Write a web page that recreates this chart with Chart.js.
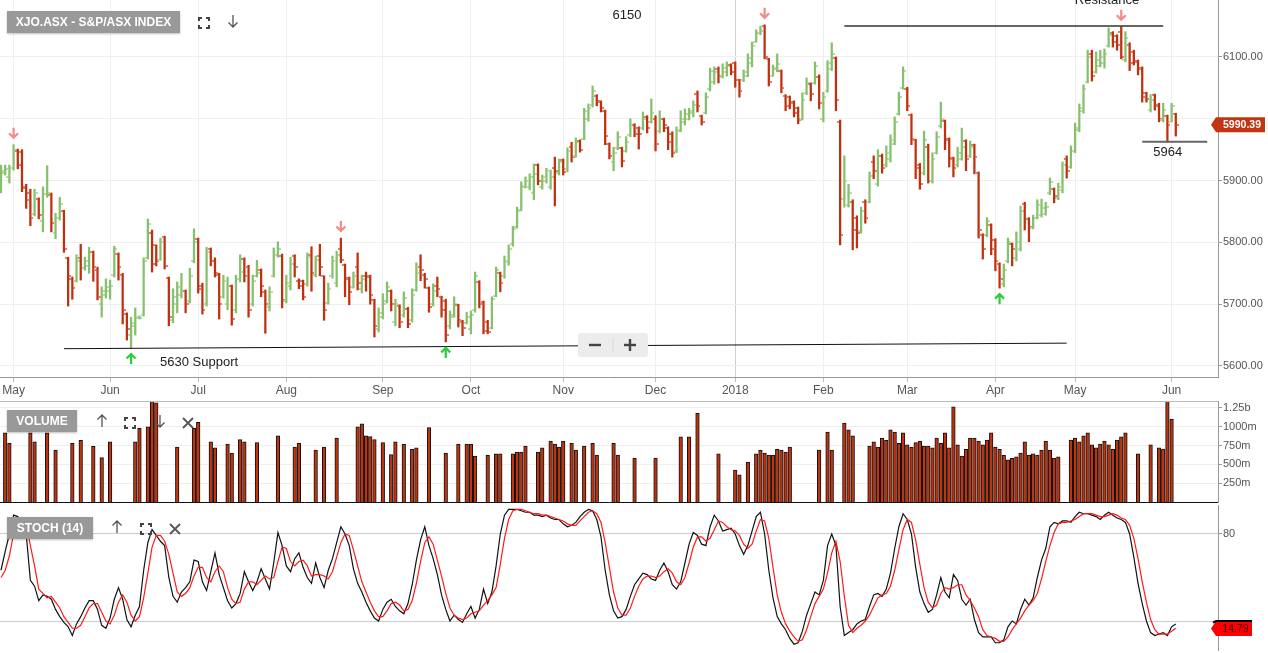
<!DOCTYPE html>
<html>
<head>
<meta charset="utf-8">
<script src="https://cdn.jsdelivr.net/npm/chart.js@4.4.1/dist/chart.umd.min.js"></script>
<style>
  body { margin: 0; background: #fff; font-family: "Liberation Sans", Arial, sans-serif; }
  #wrap { position: relative; width: 1268px; height: 653px; overflow: hidden; }
  .pane { position: absolute; left: 0; width: 1268px; }
  .tag { position: absolute; left: 7px; height: 22px; line-height: 22px; background: #999; color: #fff;
         font-size: 12px; font-weight: bold; text-align: center; box-shadow: 0 1px 2px rgba(0,0,0,0.25); }
  .icon { position: absolute; }
  .hline { position: absolute; left: 0; width: 1218px; height: 1px; background: #bbb; }
  #zoomer { position: absolute; left: 578px; top: 333px; width: 70px; height: 24px; background: #ececec;
            border-radius: 3px; }
</style>
</head>
<body>
<div id="wrap">
  <div class="pane" style="top:0;height:400px"><canvas id="priceChart" width="1268" height="400"></canvas></div>
  <div class="pane" style="top:400px;height:103px"><canvas id="volumeChart" width="1268" height="103"></canvas></div>
  <div class="pane" style="top:503px;height:150px"><canvas id="stochChart" width="1268" height="150"></canvas></div>
  <div class="hline" style="top:401px"></div>

  <div class="tag" style="top:11px;width:173px">XJO.ASX - S&amp;P/ASX INDEX</div>
  <div class="tag" style="top:410px;width:70px">VOLUME</div>
  <div class="tag" style="top:517px;width:86px">STOCH (14)</div>

  <div id="zoomer">
    <svg width="70" height="24"><line x1="11" y1="12" x2="23" y2="12" stroke="#444" stroke-width="2.4"/>
      <line x1="35" y1="5" x2="35" y2="19" stroke="#d8d8d8" stroke-width="1"/>
      <line x1="46" y1="12" x2="58" y2="12" stroke="#444" stroke-width="2.4"/>
      <line x1="52" y1="6" x2="52" y2="18" stroke="#444" stroke-width="2.4"/></svg>
  </div>
</div>

<script>
// ---- data ----
const firstDay = '2017-04-26';
const holidays = ['2017-06-12', '2017-12-25', '2017-12-26', '2018-01-01', '2018-01-26',
                  '2018-03-30', '2018-04-02', '2018-04-25'];
const monthNames = ['Jan', 'Feb', 'Mar', 'Apr', 'May', 'Jun', 'Jul', 'Aug', 'Sep', 'Oct', 'Nov', 'Dec'];

// open, high, low, close
const priceBars = [
  [5890,5925,5880,5915],[5912,5925,5909,5918],[5905,5925,5896,5920],[5920,5958,5917,5950],[5948,5951,5919,5925],
  [5946,5950,5882,5888],[5890,5894,5855,5868],[5880,5886,5827,5840],[5846,5886,5843,5880],[5870,5872,5838,5845],
  [5835,5890,5817,5878],[5878,5924,5873,5880],[5876,5880,5817,5832],[5815,5847,5806,5840],[5840,5873,5836,5862],
  [5850,5852,5784,5790],[5774,5776,5697,5745],[5740,5744,5708,5727],[5737,5780,5736,5770],[5775,5797,5739,5758],
  [5758,5776,5755,5770],[5762,5792,5750,5785],[5784,5786,5737,5760],[5755,5760,5707,5712],[5700,5728,5679,5722],
  [5715,5741,5710,5728],[5722,5739,5708,5730],[5748,5794,5744,5790],[5781,5783,5739,5760],[5748,5750,5668,5690],
  [5684,5686,5642,5660],[5650,5679,5629,5670],[5665,5694,5650,5680],[5678,5681,5676,5678],[5682,5775,5681,5770],
  [5775,5838,5773,5830],[5815,5820,5752,5765],[5795,5796,5762,5770],[5772,5807,5771,5800],[5808,5810,5757,5762],
  [5742,5744,5665,5680],[5675,5725,5670,5712],[5700,5736,5686,5728],[5715,5750,5710,5722],[5721,5723,5686,5700],
  [5705,5758,5702,5745],[5770,5822,5767,5800],[5805,5807,5718,5724],[5730,5734,5684,5690],[5700,5792,5697,5785],
  [5789,5791,5762,5770],[5770,5775,5744,5750],[5748,5750,5676,5700],[5712,5747,5710,5738],[5700,5744,5691,5730],
  [5729,5731,5666,5676],[5690,5747,5686,5740],[5740,5780,5736,5752],[5773,5775,5736,5745],[5760,5763,5679,5690],
  [5700,5747,5697,5738],[5746,5771,5744,5750],[5755,5757,5712,5730],[5720,5723,5653,5700],[5695,5728,5689,5720],
  [5746,5791,5744,5780],[5780,5801,5776,5790],[5778,5781,5694,5706],[5705,5747,5702,5735],[5730,5776,5723,5765],
  [5778,5780,5744,5760],[5738,5741,5725,5730],[5737,5739,5707,5712],[5732,5783,5729,5776],[5780,5793,5721,5750],
  [5748,5778,5744,5772],[5778,5797,5746,5760],[5745,5746,5674,5690],[5702,5734,5700,5725],[5745,5778,5742,5770],
  [5735,5786,5728,5780],[5790,5807,5767,5772],[5763,5765,5712,5740],[5742,5744,5699,5720],[5728,5752,5726,5745],
  [5760,5783,5723,5735],[5725,5747,5718,5740],[5745,5752,5721,5744],[5745,5747,5700,5715],[5706,5708,5647,5665],
  [5660,5694,5655,5685],[5680,5717,5676,5700],[5705,5736,5702,5728],[5721,5723,5689,5700],[5672,5708,5665,5700],
  [5697,5699,5662,5672],[5682,5720,5679,5710],[5693,5695,5662,5668],[5675,5725,5671,5715],[5723,5767,5721,5750],
  [5760,5780,5738,5755],[5748,5750,5726,5740],[5726,5728,5687,5695],[5700,5733,5697,5722],[5730,5744,5712,5725],
  [5711,5713,5679,5690],[5705,5708,5639,5650],[5665,5689,5660,5680],[5683,5712,5679,5700],[5698,5700,5663,5675],
  [5672,5674,5649,5662],[5670,5687,5668,5680],[5660,5689,5652,5682],[5690,5752,5687,5745],[5736,5738,5694,5700],
  [5703,5705,5652,5656],[5672,5674,5652,5655],[5662,5712,5660,5708],[5714,5760,5712,5755],[5750,5752,5720,5735],
  [5745,5778,5742,5770],[5768,5796,5763,5790],[5797,5826,5794,5822],[5825,5857,5823,5850],[5853,5898,5851,5892],
  [5890,5906,5888,5900],[5890,5911,5885,5905],[5880,5927,5869,5910],[5925,5927,5893,5900],[5890,5909,5886,5905],
  [5900,5920,5896,5915],[5890,5917,5886,5905],[5920,5938,5859,5915],[5912,5935,5909,5930],[5933,5935,5909,5914],
  [5918,5953,5914,5948],[5955,5962,5930,5938],[5940,5969,5938,5962],[5964,5966,5946,5950],[5968,6017,5966,6012],
  [6000,6024,5996,6018],[6022,6053,6019,6045],[6037,6039,6021,6028],[6027,6029,6011,6018],[6012,6014,5958,5972],
  [5960,5961,5935,5940],[5930,5954,5916,5945],[5952,5979,5950,5970],[5952,5954,5922,5932],[5948,5971,5946,5962],
  [5973,6000,5971,5990],[5990,5992,5971,5975],[5985,5987,5951,5975],[5985,6011,5982,6000],[6003,6005,5977,5985],
  [5995,6032,5993,6010],[6000,6005,5948,5960],[5980,6013,5977,6000],[5999,6001,5979,5990],[5985,5987,5950,5962],
  [5975,5979,5938,5945],[5948,5987,5945,5980],[5982,6013,5979,6000],[5995,6016,5990,6008],[6000,6017,5998,6012],
  [6010,6029,6003,6022],[6040,6045,6011,6020],[6004,6006,5990,5994],[6010,6042,6008,6035],[6048,6082,6045,6078],
  [6060,6084,6056,6075],[6080,6084,6058,6070],[6068,6089,6066,6082],[6075,6092,6069,6085],[6087,6089,6071,6076],
  [6090,6092,6051,6062],[6062,6064,6035,6045],[6062,6079,6060,6075],[6070,6105,6068,6098],[6090,6124,6084,6118],
  [6125,6144,6124,6138],[6138,6150,6136,6142],[6150,6152,6097,6100],[6096,6098,6053,6060],[6070,6087,6069,6082],
  [6080,6105,6076,6088],[6077,6079,6042,6050],[6037,6039,6013,6020],[6035,6037,6016,6025],[6027,6029,6003,6010],
  [6017,6019,5992,5998],[6000,6042,5998,6030],[6041,6066,6039,6058],[6056,6058,6029,6040],[6058,6092,6056,6085],
  [6068,6071,6016,6025],[6000,6043,5995,6035],[6045,6094,6043,6090],[6080,6123,6078,6105],[6098,6100,6013,6030],
  [5995,5998,5796,5812],[5870,5940,5857,5900],[5860,5894,5857,5880],[5866,5869,5788,5820],[5840,5843,5791,5815],
  [5818,5857,5815,5850],[5865,5869,5831,5840],[5866,5914,5864,5908],[5930,5940,5903,5915],[5895,5950,5891,5940],
  [5940,5943,5912,5920],[5925,5956,5922,5945],[5935,5974,5930,5965],[5960,6003,5958,5995],[6008,6043,6006,6035],
  [6050,6084,6048,6078],[6049,6051,6013,6020],[6006,6008,5958,5968],[5965,5967,5903,5920],[5926,5928,5886,5895],
  [5912,5980,5909,5965],[5955,5959,5896,5900],[5900,5945,5896,5935],[5945,5979,5943,5970],[5988,6027,5985,6000],
  [5996,5998,5950,5965],[5967,5969,5922,5935],[5936,5938,5906,5920],[5925,5954,5922,5945],[5935,5985,5933,5955],
  [5964,5966,5916,5935],[5940,5964,5937,5955],[5957,5959,5911,5938],[5912,5914,5807,5820],[5812,5814,5773,5790],
  [5812,5840,5809,5835],[5828,5830,5780,5790],[5804,5806,5754,5770],[5765,5767,5726,5740],[5732,5765,5728,5755],
  [5770,5807,5767,5800],[5797,5799,5762,5790],[5775,5817,5770,5800],[5790,5859,5786,5850],[5862,5865,5820,5838],
  [5838,5840,5801,5825],[5824,5844,5822,5840],[5840,5869,5838,5860],[5845,5870,5841,5855],[5846,5865,5844,5858],
  [5880,5904,5877,5898],[5886,5888,5864,5875],[5872,5896,5869,5890],[5885,5930,5880,5925],[5935,5940,5904,5915],
  [5922,5956,5920,5948],[5948,5993,5945,5985],[5982,6024,5979,6018],[6012,6055,6009,6048],[6060,6111,6058,6100],
  [6105,6111,6061,6070],[6076,6108,6074,6095],[6086,6111,6084,6100],[6090,6113,6082,6105],[6118,6147,6116,6135],
  [6138,6141,6116,6125],[6134,6136,6111,6120],[6140,6149,6097,6100],[6095,6141,6092,6130],[6120,6123,6078,6090],
  [6108,6111,6087,6092],[6093,6095,6071,6080],[6082,6084,6027,6035],[6041,6043,6027,6032],[6015,6039,6011,6030],
  [6038,6040,6014,6020],[6022,6025,5995,6000],[5998,6025,5995,6015],[6004,6006,5962,5990],[5995,6025,5995,6020],
  [6007,6009,5972,5990.39]
];

// volume in millions, null where the chart shows no bar
const volumes = [
  null,920,780,null,null,null,null,920,800,null,
  null,920,null,690,null,null,null,780,null,820,
  null,null,740,null,590,null,800,null,null,null,
  null,null,800,980,null,1000,1400,1320,null,null,
  null,null,730,null,null,null,980,1060,null,null,
  800,720,null,null,770,650,null,830,800,null,
  null,790,null,null,null,null,880,null,null,null,
  730,780,null,null,null,690,null,730,null,null,
  850,null,null,null,null,1000,1040,880,870,830,
  null,790,null,630,800,null,770,null,700,720,
  null,null,990,null,null,null,650,null,null,770,
  null,770,770,610,null,null,620,null,640,640,
  null,null,640,665,665,745,null,null,665,720,
  null,810,770,730,810,null,780,690,null,745,
  null,780,625,null,null,null,780,625,null,null,
  null,585,null,null,null,null,585,null,null,null,
  null,null,865,null,865,null,1180,null,null,null,
  null,640,null,null,null,425,360,null,530,null,
  640,690,650,625,625,700,690,665,730,null,
  null,null,null,null,null,690,null,930,690,null,
  null,1050,960,880,null,null,null,745,800,730,
  850,820,960,930,780,920,760,730,790,810,
  745,745,720,850,780,920,720,1265,760,610,
  700,850,850,810,760,825,920,730,700,620,
  560,580,600,650,800,625,640,625,690,810,
  690,585,600,null,null,825,850,800,880,920,
  760,720,770,810,760,700,825,865,920,null,
  null,640,null,null,760,null,720,705,1360,1100,null
];

const stochK = [
  55,68,80,93,92,88,80,48,44,34, 38,37,35,28,23,19,16,10,18,23,
  29,34,34,28,17,15,22,35,43,35, 21,16,24,30,55,74,83,79,75,72,
  50,37,33,40,43,47,62,61,47,41, 54,67,52,43,34,29,32,39,54,47,
  41,47,56,49,42,60,81,72,58,54, 63,67,57,50,46,60,50,43,55,63,
  74,85,80,72,56,46,40,33,27,22, 20,28,33,35,30,27,25,32,45,62,
  76,85,72,63,52,38,28,20,24,21, 19,25,30,22,28,42,32,40,58,80,
  93,97,97,97,96,95,95,93,93,92, 93,91,90,90,87,85,86,88,92,95,
  97,96,90,78,55,38,27,22,23,28, 37,45,49,53,52,49,48,55,60,54,
  45,42,47,60,73,81,79,73,72,85, 93,89,82,83,84,80,72,66,72,82,
  92,95,80,55,36,23,18,14,8,4, 5,13,24,32,40,38,48,72,80,72,
  30,10,12,14,18,20,21,30,38,39, 37,42,53,70,85,94,90,80,57,40,
  32,26,28,38,50,40,36,52,48,35, 31,35,21,12,9,9,9,5,5,7,
  16,20,18,28,35,31,36,50,62,70, 85,88,87,89,89,88,92,95,94,94,
  93,92,90,93,95,93,91,90,88,80, 64,46,32,20,12,10,11,12,10,16,18
];

const stochD = [
  50,55,65,80,88,90,87,72,58,42, 39,36,37,33,29,23,19,15,15,17,
  23,29,32,32,26,20,18,24,33,38, 33,24,20,23,36,53,71,79,79,75,
  66,53,40,37,39,43,51,57,57,50, 47,54,58,54,43,35,32,33,42,47,
  47,45,48,51,49,50,61,71,70,61, 58,61,62,58,51,52,52,51,49,54,
  64,74,80,79,69,58,47,40,33,27, 23,23,27,32,33,31,27,28,34,46,
  61,74,78,73,62,51,39,29,24,22, 21,22,25,26,27,31,34,38,43,59,
  77,90,96,97,97,96,95,94,94,93, 93,92,91,90,89,87,86,86,89,92,
  95,96,94,88,74,57,40,29,24,24, 29,37,44,49,51,51,50,51,54,56,
  53,47,45,50,60,71,78,78,75,77, 83,89,88,85,83,82,79,73,70,73,
  82,90,89,77,57,38,26,18,13,9, 6,7,14,23,32,37,42,53,67,75,
  61,37,17,12,15,17,20,24,30,36, 38,39,44,55,69,83,90,88,76,59,
  43,33,29,31,39,43,42,43,45,45, 38,34,29,23,14,10,9,8,6,6,
  9,14,18,22,27,31,34,39,49,61, 72,81,87,88,88,89,90,92,94,94,
  94,93,92,92,93,94,93,91,90,86, 77,63,47,33,21,14,11,11,11,13,15
];
const stochBadge = 14.79;

const priceTicks = [5600, 5700, 5800, 5900, 6000, 6100];
const volumeTicks = [250, 500, 750, 1000, 1250];
const volumeTickLabels = ['250m', '500m', '750m', '1000m', '1.25b'];
const stochTicks = [20, 80];

// annotations (bar index, price)
const peakArrows = [3, 81, 182, 267];
const troughArrows = [31, 106, 238];
const supportLine = [[15, 5628], [254, 5637]];
const resistanceLine = [[201, 6150], [277, 6150]];
const lowLine = [[272, 5963], [287.5, 5963]];
const notes = [
  { text: '6150', i: 149.2, p: 6168 },
  { text: 'Resistance', i: 263.6, p: 6191 },
  { text: '5630 Support', i: 47.2, p: 5605 },
  { text: '5964', i: 278.1, p: 5946 }
];

// ---- layout / style ----
const FONT = '"Liberation Sans", Arial, sans-serif';
const UP = '#86c06c', DOWN = '#c0300e';
const X_MIN = -0.24, X_MAX = 290.06;
const AXIS_W = 50;
const lastClose = priceBars[priceBars.length - 1][3];

function tradingDates(count) {
  const out = [];
  const d = new Date(firstDay + 'T00:00:00Z');
  while (out.length < count) {
    const iso = d.toISOString().slice(0, 10);
    const wd = d.getUTCDay();
    if (wd !== 0 && wd !== 6 && holidays.indexOf(iso) < 0) out.push(new Date(d));
    d.setUTCDate(d.getUTCDate() + 1);
  }
  return out;
}

const dates = tradingDates(priceBars.length);
const monthLabels = {};
for (let i = 1; i < dates.length; i++) {
  const m = dates[i].getUTCMonth();
  if (m !== dates[i - 1].getUTCMonth()) {
    monthLabels[i] = m === 0 ? String(dates[i].getUTCFullYear()) : monthNames[m];
  }
}
const monthIdx = Object.keys(monthLabels).map(Number);

function tickImage(color, left) {
  const c = document.createElement('canvas');
  c.width = 6; c.height = 2;
  const g = c.getContext('2d');
  g.fillStyle = color;
  g.fillRect(left ? 0 : 4, 0, 2, 2);
  return c;
}
const openUp = tickImage('#b9dca8', true), openDown = tickImage('#e2806c', true);
const closeUp = tickImage('#b9dca8', false), closeDown = tickImage('#e2806c', false);
const isUp = i => priceBars[i][3] >= priceBars[i][0];

// scales reserve half a label of padding by default; the panels here sit flush
const noPad = s => { s.paddingTop = 0; s.paddingBottom = 0; s.paddingLeft = 0; s.paddingRight = 0; };

function fixedX(show, height) {
  return {
    type: 'linear', min: X_MIN, max: X_MAX, offset: false, display: show,
    afterBuildTicks: s => { s.ticks = monthIdx.map(v => ({ value: v })); },
    afterFit: s => { s.height = height; noPad(s); }
  };
}

function drawArrow(ctx, x, tipY, down, color) {
  const dir = down ? -1 : 1;
  ctx.strokeStyle = color;
  ctx.lineWidth = 2.2;
  ctx.beginPath();
  ctx.moveTo(x, tipY);
  ctx.lineTo(x, tipY + dir * 10);
  ctx.moveTo(x - 4.5, tipY + dir * 4.5);
  ctx.lineTo(x, tipY);
  ctx.lineTo(x + 4.5, tipY + dir * 4.5);
  ctx.stroke();
}

function drawBadge(ctx, y, text, fill, textColor, w, topLine) {
  const x0 = 1211, h = 15;
  ctx.fillStyle = fill;
  ctx.beginPath();
  ctx.moveTo(x0, y);
  ctx.lineTo(x0 + 5, y - h / 2);
  ctx.lineTo(x0 + w, y - h / 2);
  ctx.lineTo(x0 + w, y + h / 2);
  ctx.lineTo(x0 + 5, y + h / 2);
  ctx.closePath();
  ctx.fill();
  if (topLine) {
    ctx.strokeStyle = '#000';
    ctx.lineWidth = 2;
    ctx.beginPath();
    ctx.moveTo(x0 + 2, y - h / 2 + 1.5);
    ctx.lineTo(x0 + 5, y - h / 2);
    ctx.lineTo(x0 + w, y - h / 2);
    ctx.stroke();
  }
  ctx.fillStyle = textColor;
  ctx.font = (topLine ? '' : 'bold ') + '10.5px ' + FONT;
  ctx.textAlign = 'center';
  ctx.textBaseline = 'middle';
  ctx.fillText(text, x0 + 4 + w / 2, y + 0.5);
}

const priceNotes = {
  id: 'priceNotes',
  afterDatasetsDraw(chart) {
    const { ctx, scales: { x, y } } = chart;
    ctx.save();
    peakArrows.forEach(i => drawArrow(ctx, x.getPixelForValue(i), y.getPixelForValue(priceBars[i][1]) - 7, true, '#f28a8a'));
    troughArrows.forEach(i => drawArrow(ctx, x.getPixelForValue(i), y.getPixelForValue(priceBars[i][2]) + 6, false, '#2fcc3a'));
    ctx.fillStyle = '#222';
    ctx.font = '13px ' + FONT;
    ctx.textAlign = 'center';
    ctx.textBaseline = 'middle';
    notes.forEach(n => ctx.fillText(n.text, x.getPixelForValue(n.i), y.getPixelForValue(n.p)));
    ctx.restore();
  },
  afterDraw(chart) {
    const { ctx, scales: { y } } = chart;
    ctx.save();
    drawBadge(ctx, y.getPixelForValue(lastClose), lastClose.toFixed(2), '#c23412', '#fff', 54, false);
    ctx.restore();
  }
};

const stochNotes = {
  id: 'stochNotes',
  afterDraw(chart) {
    const { ctx, scales: { y } } = chart;
    ctx.save();
    drawBadge(ctx, y.getPixelForValue(stochBadge), stochBadge.toFixed(2), '#ff0000', '#3a0000', 41, true);
    ctx.restore();
  }
};

const rightAxis = (min, max, ticks, labelFn, gridColor) => ({
  position: 'right', min: min, max: max,
  afterBuildTicks: s => { s.ticks = ticks.map(v => ({ value: v })); },
  afterFit: s => { s.width = AXIS_W; noPad(s); },
  ticks: { padding: 1, color: '#555', font: { size: 11, family: FONT }, callback: labelFn },
  grid: { color: gridColor, tickLength: 4, tickColor: '#999' },
  border: { color: '#999' }
});

const common = {
  responsive: false,
  animation: false,
  events: [],
  layout: { padding: 0, autoPadding: false },
  plugins: { legend: { display: false }, tooltip: { enabled: false } }
};

// ---- price panel ----
new Chart(document.getElementById('priceChart'), {
  type: 'bar',
  data: {
    datasets: [
      {
        type: 'line', data: supportLine.map(p => ({ x: p[0], y: p[1] })),
        borderColor: '#111', borderWidth: 1, pointRadius: 0
      },
      {
        type: 'line', data: resistanceLine.map(p => ({ x: p[0], y: p[1] })),
        borderColor: '#333', borderWidth: 1.5, pointRadius: 0
      },
      {
        type: 'line', data: lowLine.map(p => ({ x: p[0], y: p[1] })),
        borderColor: '#666', borderWidth: 2, pointRadius: 0
      },
      {
        type: 'bar',
        data: priceBars.map((b, i) => ({ x: i, y: [b[2], b[1]] })),
        backgroundColor: priceBars.map((b, i) => isUp(i) ? UP : DOWN),
        barThickness: 1.6, grouped: false
      },
      {
        type: 'scatter', data: priceBars.map((b, i) => ({ x: i, y: b[0] })),
        pointStyle: ctx => isUp(ctx.dataIndex) ? openUp : openDown, pointRadius: 3
      },
      {
        type: 'scatter', data: priceBars.map((b, i) => ({ x: i, y: b[3] })),
        pointStyle: ctx => isUp(ctx.dataIndex) ? closeUp : closeDown, pointRadius: 3
      }
    ]
  },
  options: Object.assign({}, common, {
    scales: {
      x: Object.assign(fixedX(true, 23), {
        ticks: {
          autoSkip: false, maxRotation: 0, padding: 1, color: '#555',
          font: { size: 12, family: FONT }, callback: v => monthLabels[v] || ''
        },
        grid: {
          offset: false,
          color: ctx => (ctx.tick && monthLabels[ctx.tick.value] === '2018') ? '#cfcfcf' : '#efefef',
          tickLength: 5, tickColor: '#bbb'
        },
        border: { color: '#999' }
      }),
      // the last-price badge hides the label it sits on
      y: rightAxis(5582.2, 6192.2, priceTicks, v => Math.abs(v - lastClose) < 15 ? '' : v.toFixed(2), '#efefef')
    }
  }),
  plugins: [priceNotes]
});

// ---- volume panel ----
new Chart(document.getElementById('volumeChart'), {
  type: 'bar',
  data: {
    datasets: [{
      data: volumes.map((v, i) => ({ x: i, y: v })).filter(d => d.y !== null),
      backgroundColor: '#c0330f', borderColor: '#111', borderWidth: 1,
      barThickness: 3.6
    }]
  },
  options: Object.assign({}, common, {
    layout: { padding: { top: 1, bottom: 1 }, autoPadding: false },
    scales: {
      x: Object.assign(fixedX(true, 0), {
        ticks: { display: false },
        grid: { display: false, drawTicks: false, offset: false },
        border: { color: '#111' }
      }),
      y: rightAxis(0, 1343, volumeTicks, v => volumeTickLabels[volumeTicks.indexOf(v)], '#efefef')
    }
  })
});

// ---- stochastic panel ----
new Chart(document.getElementById('stochChart'), {
  type: 'line',
  data: {
    datasets: [
      {
        data: stochD.map((v, i) => ({ x: i, y: v })),
        borderColor: '#ff1a1a', borderWidth: 1.2, pointRadius: 0, tension: 0
      },
      {
        data: stochK.map((v, i) => ({ x: i, y: v })),
        borderColor: '#111', borderWidth: 1.2, pointRadius: 0, tension: 0
      }
    ]
  },
  options: Object.assign({}, common, {
    layout: { padding: { top: 2, bottom: 3 }, autoPadding: false },
    scales: {
      x: fixedX(false, 0),
      y: rightAxis(0, 100, stochTicks, v => Math.abs(v - stochBadge) < 8 ? '' : String(v), '#cccccc')
    }
  }),
  plugins: [stochNotes]
});

// ---- header icons ----
const ICONS = {
  full: '<svg width="12" height="12"><path d="M1 4V1h3M8 1h3v3M11 8v3H8M4 11H1V8" fill="none" stroke="#444" stroke-width="2"/></svg>',
  down: '<svg width="12" height="14"><path d="M6 1v12M1.5 8.5L6 13l4.5-4.5" fill="none" stroke="#555" stroke-width="1.3"/></svg>',
  up: '<svg width="12" height="14"><path d="M6 13V1M1.5 5.5L6 1l4.5 4.5" fill="none" stroke="#555" stroke-width="1.3"/></svg>',
  close: '<svg width="12" height="12"><path d="M1 1l10 10M11 1L1 11" fill="none" stroke="#555" stroke-width="1.8"/></svg>'
};
const iconRows = [
  { y: 21, items: [['full', 204], ['down', 233]] },
  { y: 421, items: [['up', 102], ['full', 130], ['down', 160], ['close', 188]] },
  { y: 527, items: [['up', 117], ['full', 146], ['close', 175]] }
];
const wrap = document.getElementById('wrap');
iconRows.forEach(row => row.items.forEach(([name, cx]) => {
  const d = document.createElement('div');
  d.className = 'icon';
  d.innerHTML = ICONS[name];
  const svg = d.firstChild;
  d.style.left = (cx - svg.getAttribute('width') / 2) + 'px';
  d.style.top = (row.y - svg.getAttribute('height') / 2) + 'px';
  d.style.height = svg.getAttribute('height') + 'px';
  wrap.appendChild(d);
}));
</script>
</body>
</html>
